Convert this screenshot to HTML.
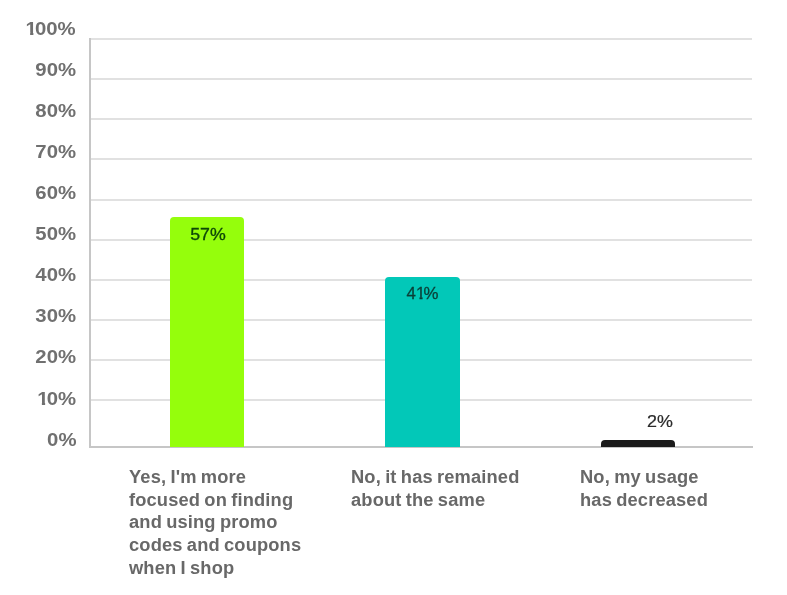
<!DOCTYPE html>
<html><head><meta charset="utf-8">
<style>
html,body{margin:0;padding:0;background:#fff;}
body{-webkit-font-smoothing:antialiased;width:787px;height:595px;position:relative;overflow:hidden;font-family:"Liberation Sans",Arial,sans-serif;}
.yl{position:absolute;will-change:transform;right:711px;font-size:19px;font-weight:bold;color:#707070;line-height:19px;white-space:nowrap;text-align:right;transform:scaleX(1.07);transform-origin:100% 50%;}
.g{position:absolute;left:90px;width:662px;height:2px;background:#e1e1e1;}
.ax{position:absolute;background:#c6c6c6;}
.bar{position:absolute;border-radius:4px 4px 0 0;}
.bl{position:absolute;will-change:transform;font-size:16px;line-height:16px;white-space:nowrap;text-align:center;transform:scaleX(1.12);}
.xl{position:absolute;will-change:transform;top:466px;font-size:18.3px;font-weight:bold;color:#686868;line-height:22.7px;word-spacing:-1px;letter-spacing:0.15px;}
.one{display:inline-block;position:relative;left:0.1em;line-height:inherit;clip-path:polygon(-0.1em -0.3em,0.7em -0.3em,0.7em 0.7em,0.382em 0.7em,0.382em 1.3em,0.222em 1.3em,0.222em 0.7em,-0.1em 0.7em);}
.b1{left:0;margin-right:-1.8px;clip-path:polygon(-0.1em -0.3em,0.7em -0.3em,0.7em 0.66em,0.392em 0.66em,0.392em 1.3em,0.212em 1.3em,0.212em 0.66em,-0.1em 0.66em);}
</style></head><body>
<div class="yl" style="top:19px"><span class="one">1</span>00%</div>
<div class="yl" style="top:60px">90%</div>
<div class="yl" style="top:101px">80%</div>
<div class="yl" style="top:142px">70%</div>
<div class="yl" style="top:183px">60%</div>
<div class="yl" style="top:224px">50%</div>
<div class="yl" style="top:265px">40%</div>
<div class="yl" style="top:306px">30%</div>
<div class="yl" style="top:347px">20%</div>
<div class="yl" style="top:389px"><span class="one">1</span>0%</div>
<div class="yl" style="top:430px">0%</div>

<div class="g" style="top:37.90px"></div>
<div class="g" style="top:78.07px"></div>
<div class="g" style="top:118.24px"></div>
<div class="g" style="top:158.41px"></div>
<div class="g" style="top:198.58px"></div>
<div class="g" style="top:238.75px"></div>
<div class="g" style="top:278.92px"></div>
<div class="g" style="top:319.09px"></div>
<div class="g" style="top:359.26px"></div>
<div class="g" style="top:399.43px"></div>

<div class="ax" style="left:89px;top:38px;width:2px;height:410px"></div>
<div class="ax" style="left:89px;top:446px;width:664px;height:2px"></div>

<div class="bar" style="left:170px;top:217px;width:73.5px;height:230px;background:#95fe0c"></div>
<div class="bar" style="left:385px;top:277px;width:75px;height:170px;background:#02c8b8"></div>
<div class="bar" style="left:601px;top:440px;width:74px;height:7px;background:#1a1a1a"></div>

<div class="bl" style="left:170.6px;width:74px;top:226.7px;color:#0d4708;transform:scaleX(1.11);-webkit-text-stroke:0.3px #0d4708">57%</div>
<div class="bl" style="left:385px;width:75px;top:285.5px;color:#0b3f37;transform:scaleX(1.05);-webkit-text-stroke:0.3px #0b3f37">4<span class="one b1">1</span>%</div>
<div class="bl" style="left:630px;width:60px;top:413.8px;color:#2a2a2a;transform:scaleX(1.12);-webkit-text-stroke:0.2px #2a2a2a">2%</div>

<div class="xl" style="left:129px">Yes, I'm more<br>focused on finding<br>and using promo<br>codes and coupons<br>when I shop</div>
<div class="xl" style="left:351px">No, it has remained<br>about the same</div>
<div class="xl" style="left:580px">No, my usage<br>has decreased</div>
</body></html>
